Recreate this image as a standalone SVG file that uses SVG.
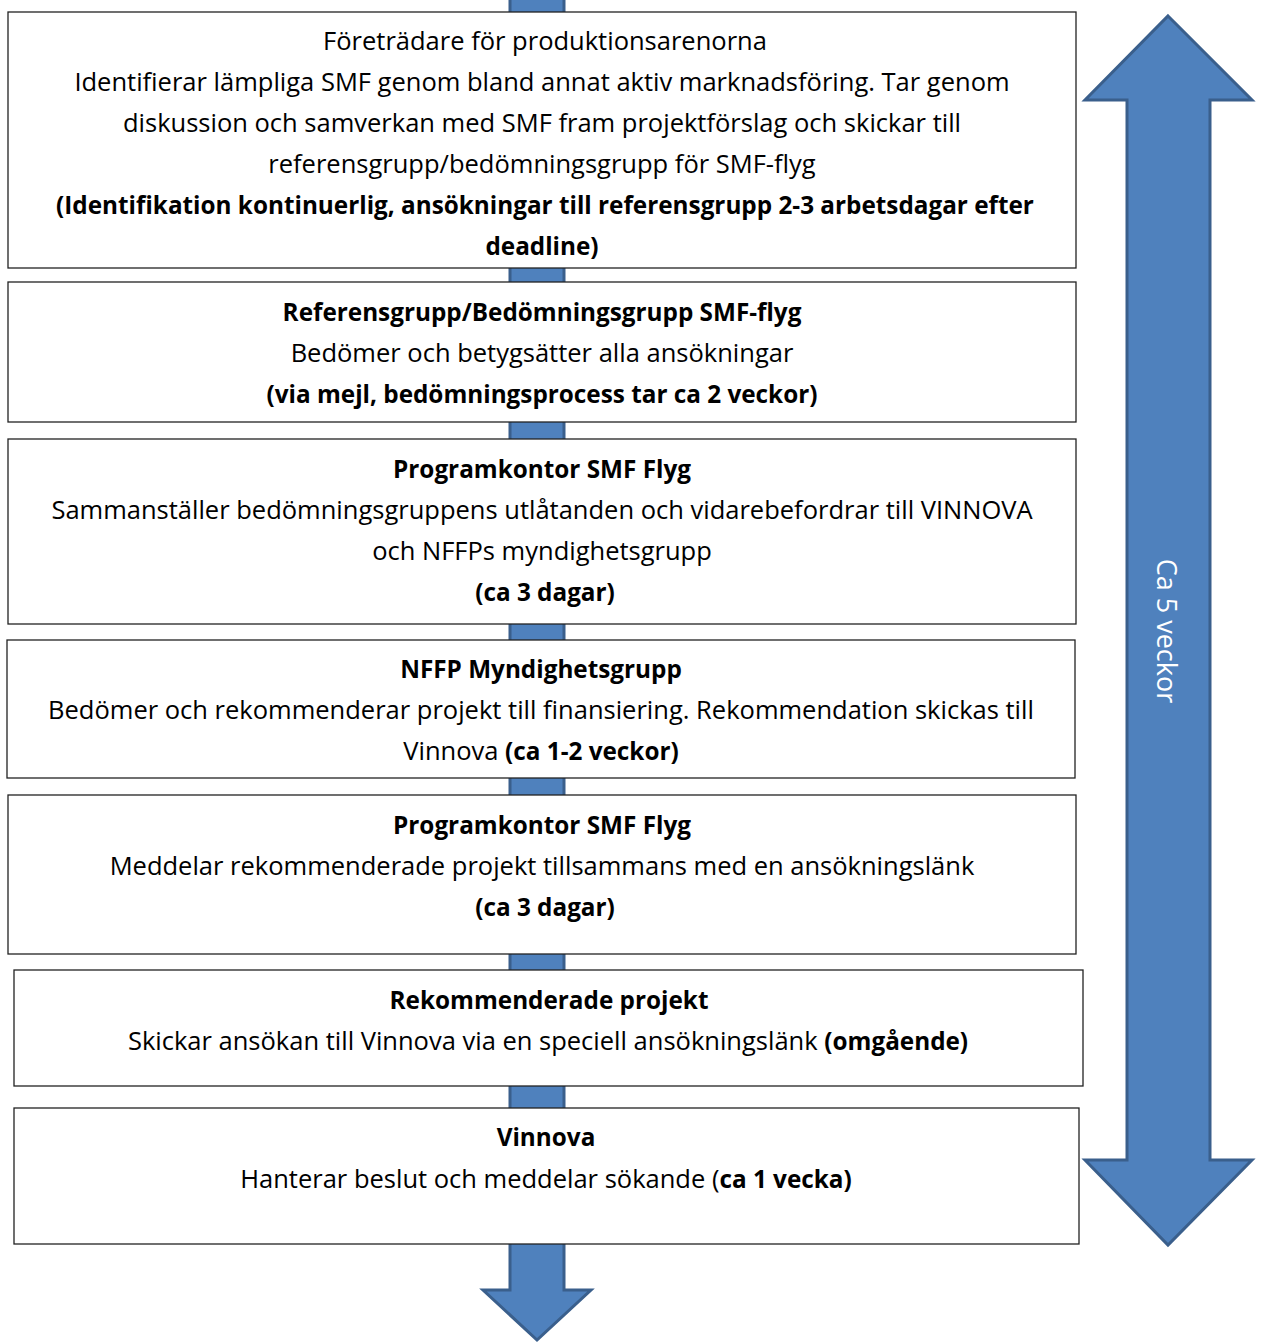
<svg xmlns="http://www.w3.org/2000/svg" width="1261" height="1343" viewBox="0 0 1261 1343">
<style>
.arrow{fill:#4F81BD;stroke:#3A5F8C;stroke-width:3;stroke-linejoin:miter}
.box{fill:#ffffff;stroke:#222222;stroke-width:1.3}
.t{font-family:"Open Sans","Noto Sans","Liberation Sans",sans-serif;font-size:25.5px;fill:#000;text-anchor:middle}
.b{font-weight:bold;font-size:24.3px}
.w{font-family:"Open Sans","Noto Sans","Liberation Sans",sans-serif;font-size:27px;fill:#ffffff;text-anchor:middle}
</style>
<rect width="1261" height="1343" fill="#ffffff"/>
<g id="connectors">
<path id="flow-arrow" class="arrow" d="M510,-5 L564,-5 L564,1290 L591,1290 L537,1340 L483,1290 L510,1290 Z"/>
<path id="duration-arrow" class="arrow" d="M1168,16 L1252,100 L1210,100 L1210,1160 L1252,1160 L1168,1245 L1085,1160 L1127,1160 L1127,100 L1085,100 Z"/>
<text class="w" transform="translate(1157,631) rotate(90)">Ca 5 veckor</text>
</g>
<g id="node1">
<rect class="box" x="8" y="12" width="1068" height="256"/>
<text class="t" x="545" y="50">Företrädare för produktionsarenorna</text>
<text class="t" x="542" y="91">Identifierar lämpliga SMF genom bland annat aktiv marknadsföring. Tar genom</text>
<text class="t" x="542" y="132">diskussion och samverkan med SMF fram projektförslag och skickar till</text>
<text class="t" x="542" y="173">referensgrupp/bedömningsgrupp för SMF-flyg</text>
<text class="t b" x="545" y="214">(Identifikation kontinuerlig, ansökningar till referensgrupp 2-3 arbetsdagar efter</text>
<text class="t b" x="542" y="255">deadline)</text>
</g>
<g id="node2">
<rect class="box" x="8" y="282" width="1068" height="140"/>
<text class="t b" x="542" y="321">Referensgrupp/Bedömningsgrupp SMF-flyg</text>
<text class="t" x="542" y="362">Bedömer och betygsätter alla ansökningar</text>
<text class="t b" x="542" y="403">(via mejl, bedömningsprocess tar ca 2 veckor)</text>
</g>
<g id="node3">
<rect class="box" x="8" y="439" width="1068" height="185"/>
<text class="t b" x="542" y="478">Programkontor SMF Flyg</text>
<text class="t" x="542" y="519">Sammanställer bedömningsgruppens utlåtanden och vidarebefordrar till VINNOVA</text>
<text class="t" x="542" y="560">och NFFPs myndighetsgrupp</text>
<text class="t b" x="545" y="601">(ca 3 dagar)</text>
</g>
<g id="node4">
<rect class="box" x="7" y="640" width="1068" height="138"/>
<text class="t b" x="541" y="678">NFFP Myndighetsgrupp</text>
<text class="t" x="541" y="719">Bedömer och rekommenderar projekt till finansiering. Rekommendation skickas till</text>
<text class="t" x="541" y="760">Vinnova <tspan class="b">(ca 1-2 veckor)</tspan></text>
</g>
<g id="node5">
<rect class="box" x="8" y="795" width="1068" height="159"/>
<text class="t b" x="542" y="834">Programkontor SMF Flyg</text>
<text class="t" x="542" y="875">Meddelar rekommenderade projekt tillsammans med en ansökningslänk</text>
<text class="t b" x="545" y="916">(ca 3 dagar)</text>
</g>
<g id="node6">
<rect class="box" x="14" y="970" width="1069" height="116"/>
<text class="t b" x="549" y="1009">Rekommenderade projekt</text>
<text class="t" x="548" y="1050">Skickar ansökan till Vinnova via en speciell ansökningslänk <tspan class="b">(omgående)</tspan></text>
</g>
<g id="node7">
<rect class="box" x="14" y="1108" width="1065" height="136"/>
<text class="t b" x="546" y="1146">Vinnova</text>
<text class="t" x="546" y="1188">Hanterar beslut och meddelar sökande (<tspan class="b">ca 1 vecka)</tspan></text>
</g>
</svg>
